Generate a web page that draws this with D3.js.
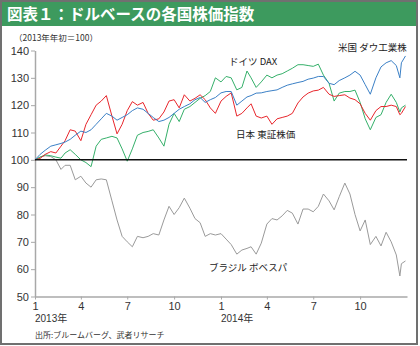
<!DOCTYPE html>
<html><head><meta charset="utf-8">
<script src="https://cdn.jsdelivr.net/npm/d3@7"></script>
<style>
html,body{margin:0;padding:0;background:#fff;}
svg{display:block;}
text{font-family:"Liberation Sans","Noto Sans CJK JP",sans-serif;}
.jp{font-family:"Noto Sans CJK JP",sans-serif;}
</style></head><body>
<svg id="c" width="420" height="346"></svg>
<script>
const titleText = "図表１：ドルベースの各国株価指数";
const unitText = "（2013年年初＝100）";
const sourceText = "出所:ブルームバーグ、武者リサーチ";
const yTicks = [50,60,70,80,90,100,110,120,130,140];
const xTickDates = ["2013-01-01","2013-04-01","2013-07-01","2013-10-01","2014-01-01","2014-04-01","2014-07-01","2014-10-01"];
const yearLabels = [["2013-01-01","2013年"],["2014-01-01","2014年"]];

const dates = [
"2013-01-01","2013-01-11","2013-01-21","2013-02-01","2013-02-11","2013-02-21","2013-03-01","2013-03-11","2013-03-21",
"2013-04-01","2013-04-11","2013-04-21","2013-05-01","2013-05-11","2013-05-21","2013-06-01","2013-06-11","2013-06-21",
"2013-07-01","2013-07-11","2013-07-21","2013-08-01","2013-08-11","2013-08-21","2013-09-01","2013-09-11","2013-09-21",
"2013-10-01","2013-10-11","2013-10-21","2013-11-01","2013-11-11","2013-11-21","2013-12-01","2013-12-11","2013-12-21",
"2014-01-01","2014-01-11","2014-01-21","2014-02-01","2014-02-11","2014-02-21","2014-03-01","2014-03-11","2014-03-21",
"2014-04-01","2014-04-11","2014-04-21","2014-05-01","2014-05-11","2014-05-21","2014-06-01","2014-06-11","2014-06-21",
"2014-07-01","2014-07-11","2014-07-21","2014-08-01","2014-08-11","2014-08-21","2014-09-01","2014-09-11","2014-09-21",
"2014-10-01","2014-10-11","2014-10-21","2014-11-01","2014-11-11","2014-11-21","2014-12-01","2014-12-11","2014-12-18",
"2014-12-21","2014-12-29"];

const usDow = [100,102,103.5,105,105.5,106,106.5,107.5,109,110.5,110,111,113,115,117,116,114.5,115.5,
116.5,118,119,118.5,117,115.5,114,114.5,115.5,117,118.5,119.5,120.5,122,122.8,121,122,122.8,
124.5,125,125,120,121.5,123,123.5,124.4,124.5,125,125.3,125.6,126.5,127.3,127.8,128.3,128.7,129.5,
129.9,130.5,130.5,128,127.5,129,130,131,132.4,131,127.5,124,130,134,135.5,136.3,134.5,130,135.5,138];

const japanTopix = [100,100.5,102,103,102.5,105,107,111,110.5,107,113,116.5,120,121.5,123.5,116,109.5,113,
118,121.3,120,121,117,114.5,115,117.5,121.5,122,119,123.8,121.5,122.5,123.8,122,119,117,
121.5,123.2,124.5,116,117,119,120.5,116,115.3,116,113,115,115.5,116,117,120.8,123,124.4,
125.2,125.5,126.5,124,123.2,123.5,123.8,122.6,122,120.5,117,114.5,118,119.5,119.5,120,119.5,116.5,117,119.5];

const germanyDax = [100,101,101.8,101.5,101,100.6,102.5,103.7,102,100,99,97.5,105,107.5,108,108.6,108,104,
99.5,104,109,110,110.4,111,108,105,113,117,114,118.5,119.5,121,122.5,123.5,125,130,
128.5,130.5,130,125.6,126.5,132.5,130,126.5,128.5,131,130,131,131.5,132.5,133.5,134.8,134.8,134.5,
134.2,135,131,128,121.5,124.4,125,125,125.5,121,115,111,115.5,116.5,121,124,121,117.5,119,120];

const brazilBovespa = [100,101,101.5,101.2,100,96.5,98,98,92.7,94,91.5,90,92.7,93,92.7,85,78,72,
70,68.2,72,71.5,72,73,72.5,78,83,80,82.5,86,82.3,78.5,77,72,73,72.5,
73,71,69,65.5,67,67.6,68.2,65.5,69.5,76.5,78.5,78,79.5,81.5,80.5,76.5,82,82,
81,83,87.5,85,81.7,86.5,91.5,87.5,80,74,78,69,72,68.5,73.5,70,65.2,57.5,62,63];

const seriesNames = ["ブラジル ボベスパ","ドイツ DAX","日本 東証株価","米国 ダウ工業株"];
const seriesColors = ["#9a9a9a","#35b06a","#e8262c","#3b80c6"];
const seriesValues = [brazilBovespa, germanyDax, japanTopix, usDow];

const svg = d3.select("#c");
const parse = d3.timeParse("%Y-%m-%d");

// frame
svg.append("rect").attr("x",1).attr("y",1).attr("width",416).attr("height",343)
  .attr("fill","#fff").attr("stroke","#707070").attr("stroke-width",2);
svg.append("rect").attr("x",2).attr("y",2).attr("width",414).attr("height",24).attr("fill","#3d9a5e");
svg.append("text").attr("class","jp").attr("x",7).attr("y",20)
  .attr("fill","#fff").attr("font-size",15.5).attr("font-weight","bold").text(titleText);

const x = d3.scaleTime().domain([parse("2013-01-01"), parse("2015-01-01")]).range([35,407]);
const y = d3.scaleLinear().domain([50,140]).range([296.5,50.5]);

// y axis
const ya = svg.append("g").attr("transform","translate(35,0)")
  .call(d3.axisLeft(y).tickValues(yTicks).tickSize(4).tickSizeOuter(0).tickPadding(2));
ya.select(".domain").attr("stroke","#a8a8a8").attr("stroke-width",1.5);
ya.selectAll(".tick line").attr("stroke","#a8a8a8");
ya.selectAll(".tick text").attr("fill","#333").attr("font-size",11).attr("font-family","Liberation Sans");

// x axis
const xa = svg.append("g").attr("transform","translate(0,296.5)")
  .call(d3.axisBottom(x).tickValues(xTickDates.map(parse)).tickFormat(d => d.getMonth()+1)
    .tickSize(3).tickSizeOuter(0).tickPadding(3));
xa.select(".domain").attr("stroke","#a8a8a8").attr("stroke-width",1.5);
xa.selectAll(".tick line").attr("stroke","#a8a8a8");
xa.selectAll(".tick text").attr("fill","#333").attr("font-size",11).attr("font-family","Liberation Sans");

svg.selectAll(".yl").data(yearLabels).enter().append("text")
  .attr("x",d => x(parse(d[0]))).attr("y",322).attr("font-size",10).attr("fill","#333")
  .text(d => d[1]);

// lines
const line = d3.line().x((d,i) => x(parse(dates[i]))).y(d => y(d));
seriesValues.forEach((vals,i) => {
  svg.append("path").datum(vals).attr("d",line).attr("fill","none")
    .attr("stroke",seriesColors[i]).attr("stroke-width",1).attr("stroke-linejoin","round");
});

// 100 baseline
svg.append("line").attr("x1",x.range()[0]).attr("x2",x.range()[1])
  .attr("y1",y(100)).attr("y2",y(100)).attr("stroke","#111").attr("stroke-width",1.5);

// labels
svg.append("text").attr("class","jp").attr("x",14).attr("y",41).attr("font-size",8.5).attr("fill","#333").text(unitText);
const labelPos = [[209,271],[229,65],[236,138],[338,51]];
seriesNames.forEach((n,i) => {
  svg.append("text").attr("class","jp").attr("x",labelPos[i][0]).attr("y",labelPos[i][1])
    .attr("font-size",9.5).attr("fill","#222").text(n);
});
svg.append("text").attr("class","jp").attr("x",35).attr("y",338).attr("font-size",8).attr("fill","#333").text(sourceText);
</script>
</body></html>
